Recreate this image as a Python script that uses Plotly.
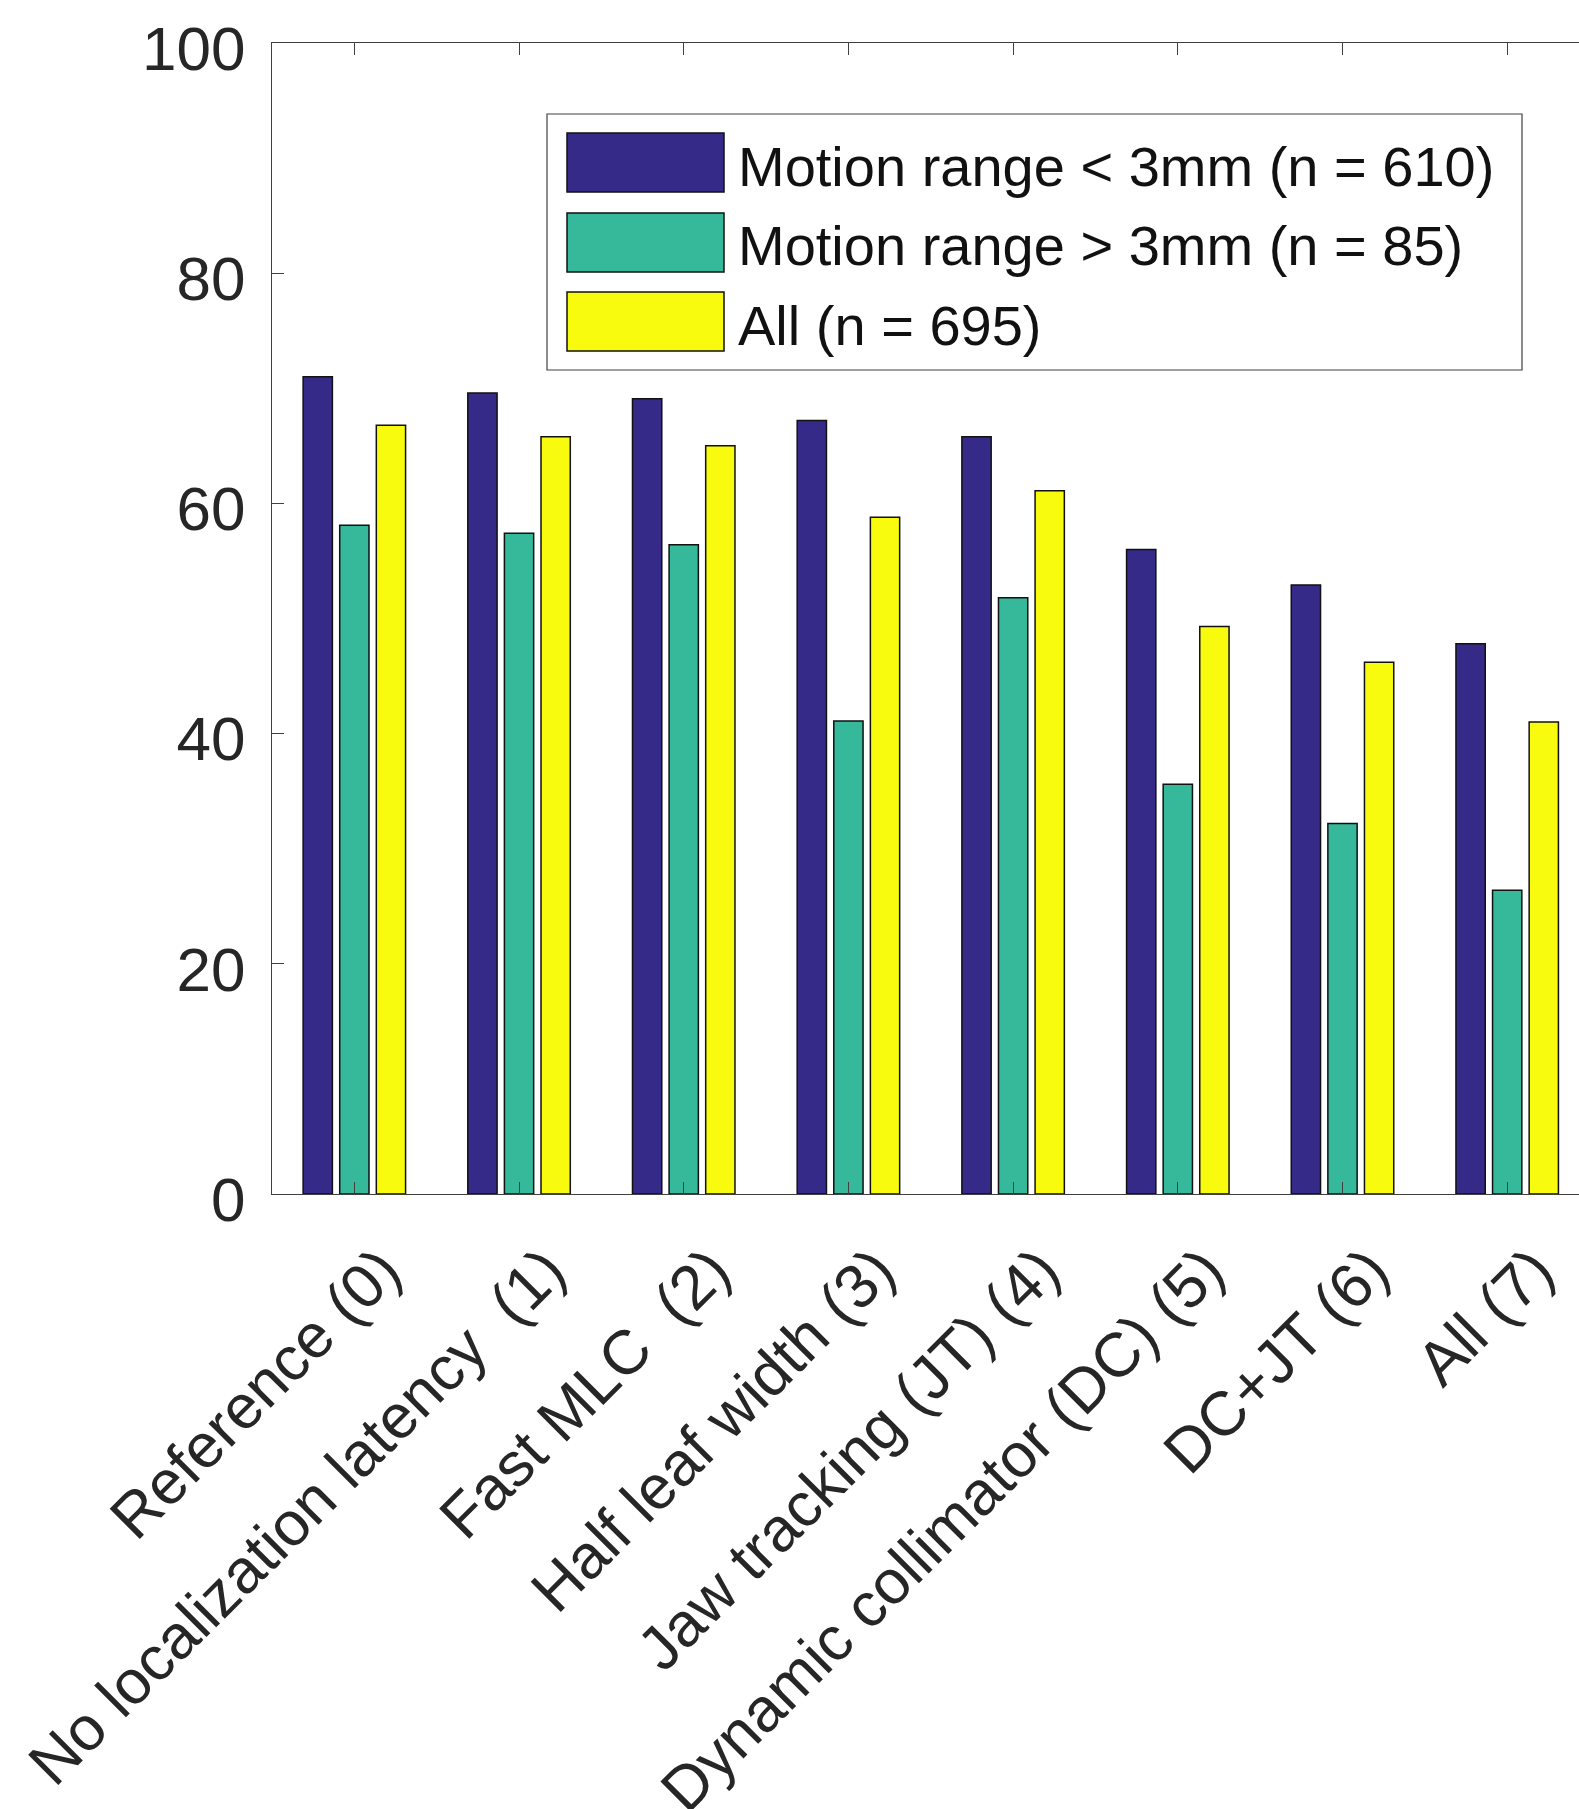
import html
import plotly.graph_objects as go

# ---------------- data ----------------
categories = [
    "Reference (0)",
    "No localization latency\u00a0 (1)",
    "Fast MLC\u00a0 (2)",
    "Half leaf width (3)",
    "Jaw tracking (JT) (4)",
    "Dynamic collimator (DC) (5)",
    "DC+JT (6)",
    "All (7)",
]
series_names = [
    "Motion range < 3mm (n = 610)",
    "Motion range > 3mm (n = 85)",
    "All (n = 695)",
]
small_motion = [71.0, 69.6, 69.1, 67.2, 65.8, 56.0, 52.9, 47.8]
large_motion = [58.1, 57.4, 56.4, 41.1, 51.8, 35.6, 32.2, 26.4]
all_patients = [66.8, 65.8, 65.0, 58.8, 61.1, 49.3, 46.2, 41.0]
y_ticks = [0, 20, 40, 60, 80, 100]

series_values = [small_motion, large_motion, all_patients]
colors = ["#352A87", "#36B89B", "#F9FB0E"]

# ---------------- layout geometry ----------------
W, H = 1579, 1809
ML, MR, MT, MB = 272, 0, 43, 615
PW, PH = W - ML - MR, H - MT - MB
FONT = "Liberation Sans, Arial, Helvetica, sans-serif"
TXT = "#262626"


def px(x):
    return (x - ML) / PW


def py(y):
    return (H - MB - y) / PH


fig = go.Figure()
for name, vals, col in zip(series_names, series_values, colors):
    fig.add_trace(
        go.Bar(
            x=categories,
            y=vals,
            name=name,
            marker=dict(color=col, line=dict(color="#111111", width=1.5)),
            showlegend=False,
        )
    )

# custom legend (MATLAB-style large swatches)
shapes = [
    dict(type="rect", xref="paper", yref="paper",
         x0=px(547), x1=px(1522), y0=py(370), y1=py(114),
         line=dict(color="#404040", width=1.2), fillcolor="white", layer="above")
]
annotations = []
row_tops = [133, 213, 292]
for top, name, col in zip(row_tops, series_names, colors):
    shapes.append(dict(type="rect", xref="paper", yref="paper",
                       x0=px(567), x1=px(724), y0=py(top + 59), y1=py(top),
                       line=dict(color="#111111", width=1.5), fillcolor=col, layer="above"))
    annotations.append(dict(xref="paper", yref="paper", x=px(736), y=py(top + 33),
                            xanchor="left", yanchor="middle", showarrow=False,
                            text=html.escape(name),
                            font=dict(family=FONT, size=56, color="#111111")))

fig.update_layout(
    width=W, height=H,
    margin=dict(l=ML, r=MR, t=MT, b=MB, pad=0, autoexpand=False),
    paper_bgcolor="white", plot_bgcolor="white",
    barmode="group", bargap=1 / 3, bargroupgap=0.2,
    font=dict(family=FONT, size=62, color=TXT),
    shapes=shapes, annotations=annotations,
    showlegend=False,
)
fig.update_xaxes(
    range=[-0.5, 7.436], automargin=False,
    showline=True, linecolor="#404040", linewidth=1.2, mirror="ticks",
    ticks="inside", ticklen=12, tickwidth=1.2, tickcolor="#404040",
    tickangle=-45, ticklabelstandoff=14, ticklabelshift=28,
    showgrid=False, zeroline=False,
    tickfont=dict(family=FONT, size=62, color=TXT),
)
fig.update_yaxes(
    range=[0, 100], automargin=False,
    tickvals=y_ticks,
    showline=True, linecolor="#404040", linewidth=1.2, mirror=False,
    ticks="inside", ticklen=12, tickwidth=1.2, tickcolor="#404040",
    ticklabelstandoff=13, ticklabelshift=5,
    showgrid=False, zeroline=False,
    tickfont=dict(family=FONT, size=62, color=TXT),
)

fig.write_html("out.html", config={"displayModeBar": False})
